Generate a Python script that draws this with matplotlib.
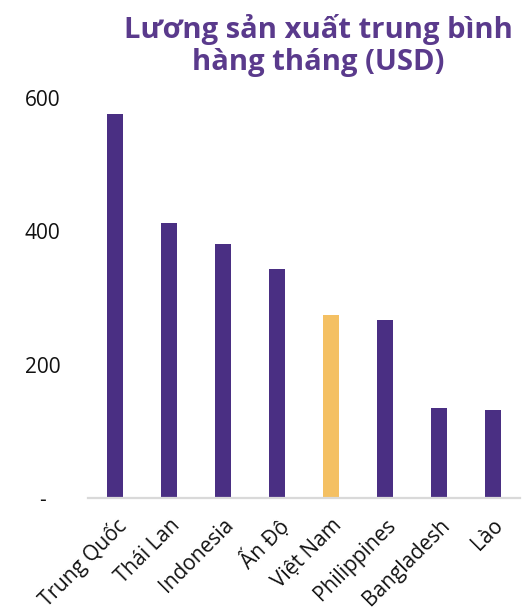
import matplotlib
matplotlib.use("Agg")
from matplotlib import pyplot as plt

# Monthly manufacturing wages (USD)
countries = ["Trung Quốc", "Thái Lan", "Indonesia", "Ấn Độ", "Việt Nam",
             "Philippines", "Bangladesh", "Lào"]
wages = [577, 412, 381, 343, 274, 267, 135, 132]
highlight = "Việt Nam"

y_ticks = [0, 200, 400, 600]
y_tick_labels = ["-", "200", "400", "600"]

PURPLE = "#4a2f83"
YELLOW = "#f4c063"
TITLE_COLOR = "#5a3a8c"

plt.rcParams["font.family"] = ["Open Sans", "DejaVu Sans"]

fig = plt.figure(figsize=(5.31, 6.14), dpi=100)
ax = fig.add_axes([0.166, 0.189, 0.813, 0.651])

colors = [YELLOW if c == highlight else PURPLE for c in countries]
ax.bar(range(len(countries)), wages, width=0.31, color=colors)

ax.set_xlim(-0.5, len(countries) - 0.5)
ax.set_ylim(0, 600)
ax.set_yticks(y_ticks)
ax.set_yticklabels(y_tick_labels, fontsize=15, color="#111111")
ax.set_xticks(range(len(countries)))
ax.set_xticklabels(countries, rotation=45, ha="right", rotation_mode="anchor",
                   fontsize=15, color="#111111")

for spine in ["top", "right", "left"]:
    ax.spines[spine].set_visible(False)
ax.spines["bottom"].set_color("#d9d9d9")
ax.spines["bottom"].set_linewidth(1.6)
ax.tick_params(axis="both", length=0)
ax.tick_params(axis="y", pad=33)
ax.tick_params(axis="x", pad=12)
for lbl in ax.get_yticklabels():
    lbl.set_horizontalalignment("center")

fig.text(0.599, 0.926, "Lương sản xuất trung bình\nhàng tháng (USD)",
         ha="center", va="center", fontsize=21, fontweight="bold",
         color=TITLE_COLOR, linespacing=1.15)

fig.savefig("out.png", dpi=100)
